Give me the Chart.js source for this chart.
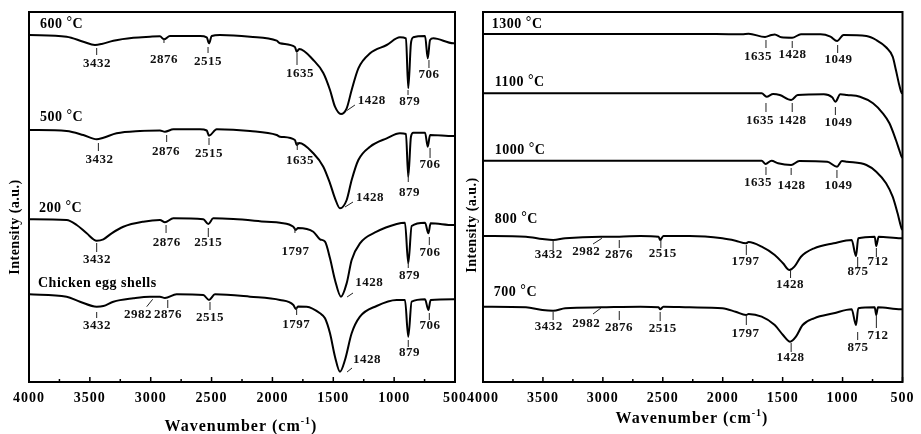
<!DOCTYPE html>
<html><head><meta charset="utf-8">
<script src="https://cdn.jsdelivr.net/npm/chart.js@4.4.1/dist/chart.umd.min.js"></script>
<style>
html,body{margin:0;padding:0;background:#fff;overflow:hidden;width:921px;height:434px}
canvas{position:absolute;left:0;top:0}
</style></head><body>
<canvas id="cL" width="921" height="434"></canvas>
<canvas id="cR" width="921" height="434"></canvas>
<script>
// ---------- data (wavenumber in cm-1, intensity in a.u. incl. stacking offset) ----------
const xTickValues = [4000,3500,3000,2500,2000,1500,1000,500];

const wn600  = [4000,3691,3554,3458,3403,3307,3143,3006,2924,2891,2842,2595,2540,2521,2499,2431,2184,1965,1938,1815,1801,1780,1664,1582,1527,1486,1437,1390,1349,1294,1198,1061,952,903,884,862,843,746,724,705,678,514,500];
const int600 = [347,345.3,340.3,337,338,341.3,344.3,345.3,345.7,342.7,346,346,344.7,338.7,346,347,345.3,341.3,338.7,335,330.3,333,322,309,292,275.3,268,273.7,292,313.7,328.7,337,344.7,343.7,293.7,338.7,344.7,346,323.7,342,343.7,338.7,338.7];

const wn500  = [4000,3691,3554,3444,3389,3280,3088,2924,2883,2814,2595,2540,2521,2458,2184,1965,1938,1815,1801,1780,1664,1582,1527,1486,1445,1390,1349,1294,1198,1061,952,903,884,862,843,746,724,705,514,500];
const int500 = [252,251,247,242.7,244.3,248.7,251,251.5,250.3,252.7,252.7,251.5,246.3,252.7,251,247,245.3,242,237,239,228.7,215.3,198.7,183.7,173.7,182,202,222,235.3,243.7,248.7,248,205.3,245.3,249.3,249.3,235.3,247,246,246];

const wn200  = [4000,3691,3608,3526,3444,3389,3321,3225,3061,2924,2883,2814,2568,2527,2486,2321,2047,1938,1828,1808,1790,1664,1609,1568,1527,1486,1437,1390,1349,1281,1144,979,911,884,856,746,719,700,514,500];
const int200 = [162.7,162,157,148.7,141.3,142.7,148.7,155.3,160.3,162,159.7,163.7,162.7,158,163.7,163,160.3,159.3,155.3,152,154,150.3,142.7,140.3,123.7,102,85.3,98.7,122,138.7,150.3,158,159.3,118.7,156,159.3,148.7,158.7,157,157];

const wnEgg  = [4000,3691,3581,3444,3389,3307,3143,3006,2924,2883,2787,2568,2521,2472,2184,1938,1828,1808,1790,1719,1609,1568,1527,1486,1445,1404,1349,1281,1144,979,911,884,856,746,719,700,514,500];
const intEgg = [87.7,85.3,80.3,75.3,76,80.3,83.7,85.3,85.3,84,87.7,87,82,87.7,85.3,82,77,73,75.5,75.3,68.7,63.7,48.7,25.3,10.3,22,48.7,65.3,76,82,82,45.3,80.3,82.7,72,82,82.7,82.7];

const wn1300  = [4000,2057,1839,1784,1647,1593,1566,1511,1421,1347,1183,1101,1046,992,801,719,637,582,555,527,508,500];
const int1300 = [348,348,347.7,348.3,345,347,347.5,344.7,344.3,347.7,347.7,345.3,341,347,346,342,334.7,325.3,312,297,289.3,288.7];

const wn1100  = [4000,1675,1634,1579,1524,1429,1374,1156,1087,1060,1019,964,855,746,664,609,555,527,508,500];
const int1100 = [288.7,288.7,285.3,288,287,282,287,287.7,284.7,280.3,287.7,287,285.3,278.7,268.7,258.7,242,232,225.3,224];

const wn1000  = [4000,1675,1642,1593,1538,1429,1361,1128,1046,1005,964,801,719,637,582,541,508,500];
const int1000 = [221.3,221.3,218,221.3,218.7,217,221,220.3,215.3,221,220.3,217,210.3,198.7,185.3,168.7,153.7,152];

const wn800  = [4000,3642,3505,3415,3314,3014,2863,2686,2535,2522,2495,2276,2003,1893,1805,1784,1675,1566,1497,1443,1402,1347,1238,1074,924,888,869,732,719,699,514,500];
const int800 = [146,145.3,143,142,143.7,145.3,145.3,146,145.3,142,146,146,143.7,141.3,138.7,140,135.3,127,118.7,112,115.3,125.3,133.7,138.7,142,126,143.7,145.3,136,145.3,143.7,143.7];

const wn700  = [4000,3642,3505,3415,3314,3014,2686,2535,2522,2495,2276,2003,1893,1805,1784,1675,1566,1497,1437,1389,1333,1238,1074,924,888,869,732,719,705,514,500];
const int700 = [75.3,74.7,72,71.3,73.7,74.7,75.3,74.7,72.7,75.3,74.7,73.7,70.3,67,68,65.3,57,47,40.3,45.3,57,63.7,68.7,72.7,57,73.7,74.7,67,74.7,72.7,72.7];

const leftNames  = ['600 °C','500 °C','200 °C','Chicken egg shells'];
const rightNames = ['1300 °C','1100 °C','1000 °C','800 °C','700 °C'];
const xTitleText = 'Wavenumber (cm';
const xTitleSup = '-1';
const yTitleText = 'Intensity (a.u.)';

// ---------- label placement (data coordinates) ----------
// peak marks: [text, tick wn, tick top, tick bottom, label wn, label y]
const leftMarks = [
  ['3432',3444,334,327,3441,318],['2876',2891,343,339,2891,322],['2515',2529,335,329,2529,320],
  ['1635',1798,329,317,1774,308],['879',886,292,287,872,280],['706',714,322,314,714,307],
  ['3432',3430,239,231,3421,222],['2876',2869,247,240,2874,230],['2515',2521,244,237,2521,228],
  ['1635',1796,240,232,1773,221],['879',884,209,200,874,189],['706',705,234,224,705,217],
  ['3432',3444,139,130,3441,122],['2876',2874,157,149,2869,139],['2515',2527,154,145,2527,139],
  ['1797',1815,154,149,1811,130],['879',884,120,114,874,106],['706',711,145,137,705,129],
  ['3432',3444,70,64,3441,56],['2876',2860,82,74,2858,67],['2515',2513,80,72,2513,64],
  ['1797',1801,75,67,1805,57],['879',884,42,35,874,29],['706',711,69,62,705,56]
];
// leader marks: [text, x1, y1, x2, y2, label wn, label y]
const leftLeaders = [
  ['1428',1390,271.3,1322,277,1184,281],['1428',1404,175,1338,180,1198,184],
  ['1428',1387,85,1338,89,1204,99],['1428',1387,10,1346,14,1223,22],['2982',2984,82.7,3033,75.3,3104,67]
];
const rightMarks = [
  ['1635',1639,342,334,1705,325],['1428',1420,341,334,1418,327],['1049',1041,337,329,1033,322],
  ['1635',1639,279,270,1688,261],['1428',1420,279,270,1418,261],['1049',1060,275,267,1033,259],
  ['1635',1639,215,207,1705,199],['1428',1429,214,207,1426,196],['1049',1047,212,204,1033,196],
  ['3432',3415,142,132,3451,127],['2876',2863,142,134,2866,127],['2515',2516,142,134,2500,128],
  ['1797',1803,137,127,1809,120],['1428',1434,112,104,1438,97],['875',874,125,115,872,110],['712',718,134,125,705,120],
  ['3432',3415,70,62,3451,55],['2876',2863,71,62,2866,54],['2515',2522,70,61,2500,53],
  ['1797',1803,67,57,1809,48],['1428',1429,39,30,1434,24],['875',874,50,42,872,34],['712',718,67,54,705,46]
];
const rightLeaders = [
  ['2982',3008,143.7,3082,138,3139,130],['2982',3016,74,3082,68,3139,58]
];
const leftNamePos  = [[3910,358],[3910,265],[3918,174],[3926,99]];
const rightNamePos = [[3926,358],[3902,300],[3902,232],[3902,163],[3910,90]];

const SERIF = '"Liberation Serif","Times New Roman",serif';

function drawDegText(ctx, txt, x, y) {
  const i = txt.indexOf('°');
  if (i < 0) { ctx.fillText(txt, x, y); return; }
  const a = txt.slice(0, i), b = txt.slice(i + 1);
  ctx.fillText(a, x, y);
  let w = ctx.measureText(a).width;
  ctx.fillText('°', x + w, y - 2);
  w += ctx.measureText('°').width;
  ctx.fillText(b, x + w, y);
}

function extrasPlugin(ex) {
  return {
    id: 'extras',
    beforeDraw(chart) { chart.ctx.letterSpacing = '1px'; },
    afterDatasetsDraw(chart) {
      const ctx = chart.ctx, xs = chart.scales.x, ys = chart.scales.y, a = chart.chartArea;
      const X = v => xs.getPixelForValue(v), Y = v => ys.getPixelForValue(v);
      const line = (x1, y1, x2, y2) => { ctx.beginPath(); ctx.moveTo(x1, y1); ctx.lineTo(x2, y2); ctx.stroke(); };
      ctx.save();
      // frame
      ctx.strokeStyle = '#000'; ctx.lineWidth = 2;
      ctx.strokeRect(a.left, a.top, a.right - a.left, a.bottom - a.top);
      // inward ticks
      ctx.lineWidth = 1.5;
      for (let v = 500; v <= 4000; v += 250) {
        const len = (v % 500 === 0) ? 5 : 3;
        line(X(v), a.bottom, X(v), a.bottom - len);
      }
      // peak marks
      ctx.strokeStyle = '#222'; ctx.lineWidth = 1; ctx.fillStyle = '#111';
      ctx.font = 'bold 13px ' + SERIF; ctx.letterSpacing = '0.5px';
      ctx.textAlign = 'center'; ctx.textBaseline = 'middle';
      ex.marks.forEach(([t, x, y1, y2, lx, ly]) => {
        line(X(x), Y(y1), X(x), Y(y2));
        ctx.fillText(t, X(lx), Y(ly));
      });
      ex.leaders.forEach(([t, x1, y1, x2, y2, lx, ly]) => {
        line(X(x1), Y(y1), X(x2), Y(y2));
        ctx.fillText(t, X(lx), Y(ly));
      });
      // series names
      ctx.font = 'bold 14px ' + SERIF; ctx.textAlign = 'left'; ctx.fillStyle = '#000';
      ex.names.forEach((n, i) => drawDegText(ctx, n, X(ex.namePos[i][0]), Y(ex.namePos[i][1])));
      // x title
      ctx.letterSpacing = '1px';
      ctx.font = 'bold 16px ' + SERIF;
      const w1 = ctx.measureText(xTitleText).width, w3 = ctx.measureText(')').width;
      ctx.font = 'bold 10px ' + SERIF;
      const w2 = ctx.measureText(xTitleSup).width;
      let sx = ex.xTitle[0] - (w1 + w2 + w3) / 2, sy = ex.xTitle[1];
      ctx.font = 'bold 16px ' + SERIF; ctx.fillText(xTitleText, sx, sy);
      ctx.font = 'bold 10px ' + SERIF; ctx.fillText(xTitleSup, sx + w1, sy - 6);
      ctx.font = 'bold 16px ' + SERIF; ctx.fillText(')', sx + w1 + w2, sy);
      // y title
      ctx.save();
      ctx.translate(ex.yTitle[0], ex.yTitle[1]); ctx.rotate(-Math.PI / 2);
      ctx.font = 'bold 14px ' + SERIF; ctx.letterSpacing = '0.5px'; ctx.textAlign = 'center';
      ctx.fillText(yTitleText, 0, 0);
      ctx.restore();
      ctx.restore();
    }
  };
}

function makeChart(id, pad, series, ex) {
  const datasets = series.map(s => ({
    label: s.name,
    data: s.wn.map((w, i) => ({ x: w, y: s.val[i] })),
    borderColor: '#000', borderWidth: 2, pointRadius: 0, fill: false,
    cubicInterpolationMode: 'monotone'
  }));
  return new Chart(document.getElementById(id), {
    type: 'line',
    data: { datasets },
    options: {
      responsive: false, animation: false, events: [],
      layout: { padding: pad },
      plugins: { legend: { display: false }, tooltip: { enabled: false } },
      scales: {
        x: {
          type: 'linear', reverse: true, min: 500, max: 4000,
          afterBuildTicks: s => { s.ticks = xTickValues.map(v => ({ value: v })); },
          afterFit: s => { s.height = 52; },
          grid: { display: false, drawTicks: false }, border: { display: false },
          ticks: { autoSkip: false, maxRotation: 0, padding: 8, color: '#000',
                   callback: v => String(v),
                   font: { family: SERIF, size: 14, weight: 'bold' } }
        },
        y: { display: false, min: 0, max: 370 }
      }
    },
    plugins: [extrasPlugin(ex)]
  });
}

makeChart('cL', { left: 29, right: 466, top: 12, bottom: 0 }, [
  { name: leftNames[0], wn: wn600, val: int600 },
  { name: leftNames[1], wn: wn500, val: int500 },
  { name: leftNames[2], wn: wn200, val: int200 },
  { name: leftNames[3], wn: wnEgg, val: intEgg }
], { marks: leftMarks, leaders: leftLeaders, names: leftNames, namePos: leftNamePos,
     xTitle: [241, 427], yTitle: [15, 227] });

makeChart('cR', { left: 483, right: 11, top: 12, bottom: 0 }, [
  { name: rightNames[0], wn: wn1300, val: int1300 },
  { name: rightNames[1], wn: wn1100, val: int1100 },
  { name: rightNames[2], wn: wn1000, val: int1000 },
  { name: rightNames[3], wn: wn800, val: int800 },
  { name: rightNames[4], wn: wn700, val: int700 }
], { marks: rightMarks, leaders: rightLeaders, names: rightNames, namePos: rightNamePos,
     xTitle: [692, 419], yTitle: [472, 225] });
</script></body></html>
